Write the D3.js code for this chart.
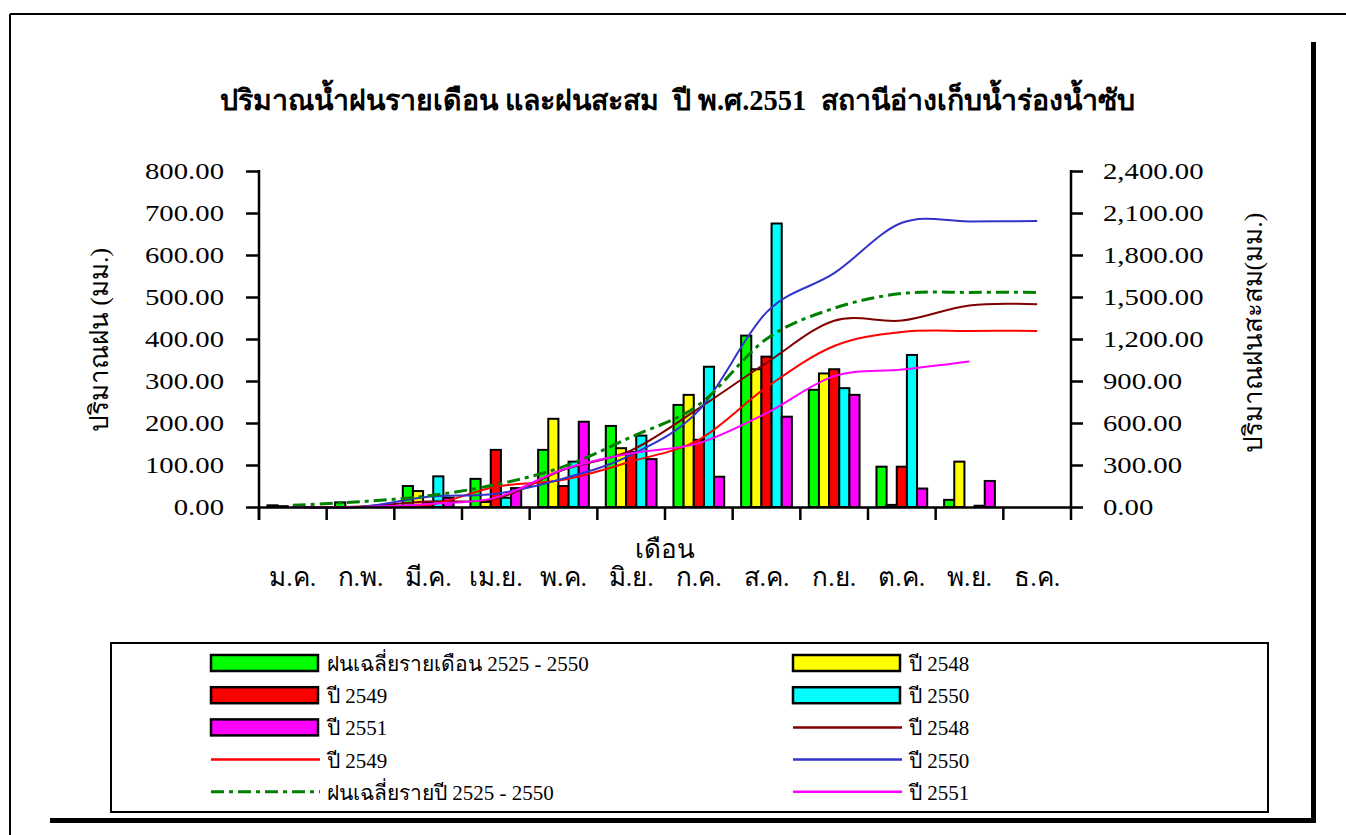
<!DOCTYPE html>
<html><head><meta charset="utf-8">
<script src="https://cdn.jsdelivr.net/npm/d3@7"></script>
<style>
body{margin:0;background:#fff;}
svg text{font-family:"Liberation Serif","Times New Roman",serif;white-space:pre;}
</style></head>
<body><svg id="c" width="1346" height="835"></svg>
<script>
const months = ["ม.ค.","ก.พ.","มี.ค.","เม.ย.","พ.ค.","มิ.ย.","ก.ค.","ส.ค.","ก.ย.","ต.ค.","พ.ย.","ธ.ค."];
const leftTicks = [0,100,200,300,400,500,600,700,800];
const rightTicks = [0,300,600,900,1200,1500,1800,2100,2400];
// monthly rainfall (bars)
const barAvg   = [4, 11, 50, 67, 136, 193, 243, 408, 279, 96, 17, 0];
const bar2548  = [2, 0, 38, 12, 210, 140, 267, 328, 318, 5, 108, 0];
const bar2549  = [0, 0, 12, 136, 50, 131, 160, 358, 328, 96, 0, 0];
const bar2550  = [0, 0, 73, 22, 108, 170, 334, 675, 283, 362, 3, 0];
const bar2551  = [0, 0, 22, 45, 203, 114, 72, 215, 267, 44, 62, 0];
// cumulative rainfall (lines)
const cum2548  = [2, 4, 40, 58, 265, 405, 705, 1030, 1330, 1332, 1440, 1448];
const cum2549  = [0, 0, 12, 145, 195, 325, 480, 855, 1150, 1250, 1258, 1258];
const cum2550  = [0, 0, 73, 95, 203, 373, 690, 1390, 1670, 2030, 2040, 2042];
const cum2551  = [0, 0, 22, 67, 270, 384, 456, 671, 935, 982, 1040];
const cumAvg   = [12, 38, 80, 160, 288, 500, 730, 1200, 1420, 1525, 1533, 1533];

const barSeries = [
  {name:"ฝนเฉลี่ยรายเดือน 2525 - 2550", values:barAvg, color:"#00ff00"},
  {name:"ปี 2548", values:bar2548, color:"#ffff00"},
  {name:"ปี 2549", values:bar2549, color:"#ff0000"},
  {name:"ปี 2550", values:bar2550, color:"#00ffff"},
  {name:"ปี 2551", values:bar2551, color:"#ff00ff"}
];
const lineSeries = [
  {name:"ปี 2548", values:cum2548, color:"#800000", dash:null, w:2},
  {name:"ปี 2549", values:cum2549, color:"#ff0000", dash:null, w:2},
  {name:"ปี 2550", values:cum2550, color:"#3333cc", dash:null, w:2},
  {name:"ฝนเฉลี่ยรายปี 2525 - 2550", values:cumAvg, color:"#008000", dash:"13,5,4,5", w:3},
  {name:"ปี 2551", values:cum2551, color:"#ff00ff", dash:null, w:2}
];

const svg = d3.select("#c");
// outer frame
svg.append("line").attr("x1",10).attr("y1",14).attr("x2",1346).attr("y2",14).attr("stroke","#000").attr("stroke-width",2);
svg.append("line").attr("x1",10).attr("y1",14).attr("x2",10).attr("y2",835).attr("stroke","#000").attr("stroke-width",2);
svg.append("line").attr("x1",1313.5).attr("y1",42).attr("x2",1313.5).attr("y2",823).attr("stroke","#000").attr("stroke-width",5);
svg.append("line").attr("x1",50).attr("y1",820.5).attr("x2",1316).attr("y2",820.5).attr("stroke","#000").attr("stroke-width",5);

svg.append("text").attr("x",677).attr("y",110).attr("text-anchor","middle")
  .attr("font-size",28.5).attr("font-weight","bold")
  .text("ปริมาณน้ำฝนรายเดือน และฝนสะสม  ปี พ.ศ.2551  สถานีอ่างเก็บน้ำร่องน้ำซับ");

const L=259, R=1071, B=507, T=171;
const x = d3.scaleBand().domain(months).range([L,R]);
const bw = x.bandwidth();
const x1 = d3.scaleBand().domain(barSeries.map((d,i)=>i)).range([bw*0.125, bw*0.875]);
const y = d3.scaleLinear().domain([0,800]).range([B,T]);
const y2 = d3.scaleLinear().domain([0,2400]).range([B,T]);

// bars
barSeries.forEach((s,si)=>{
  svg.append("g").selectAll("rect").data(s.values).join("rect")
    .attr("x",(d,i)=>x(months[i])+x1(si))
    .attr("width",x1.bandwidth())
    .attr("y",d=>y(d))
    .attr("height",d=>B-y(d))
    .attr("fill",s.color).attr("stroke","#000").attr("stroke-width",2);
});

// lines
lineSeries.forEach(s=>{
  const ln = d3.line().x((d,i)=>x(months[i])+bw/2).y(d=>y2(d)).curve(d3.curveCatmullRom.alpha(0));
  svg.append("path").datum(s.values).attr("d",ln).attr("fill","none")
    .attr("stroke",s.color).attr("stroke-width",s.w).attr("stroke-dasharray",s.dash);
});

// axes
const fmt = d3.format(",.2f");
const gl = svg.append("g").attr("transform",`translate(${L},0)`)
  .call(d3.axisLeft(y).tickValues(leftTicks).tickFormat(d3.format(".2f")).tickSize(13).tickPadding(22));
const gr = svg.append("g").attr("transform",`translate(${R},0)`)
  .call(d3.axisRight(y2).tickValues(rightTicks).tickFormat(fmt).tickSize(12).tickPadding(20));
const sx = 1.25;
[gl,gr].forEach(g=>{
  g.select(".domain").remove();
  g.selectAll(".tick line").attr("stroke","#000").attr("stroke-width",2.5);
  g.selectAll(".tick text").attr("font-size",23).attr("fill","#000").attr("font-family","Liberation Serif")
    .each(function(){
      const t = d3.select(this);
      const ox = +t.attr("x");
      t.attr("x", ox/sx).attr("transform",`scale(${sx},1)`);
    });
});
svg.append("line").attr("x1",L).attr("x2",L).attr("y1",T-1).attr("y2",B+13).attr("stroke","#000").attr("stroke-width",2.5);
svg.append("line").attr("x1",R).attr("x2",R).attr("y1",T-1).attr("y2",B+13).attr("stroke","#000").attr("stroke-width",2.5);
const gx = svg.append("g").attr("transform",`translate(0,${B})`)
  .call(d3.axisBottom(x).tickValues([]).tickSizeOuter(0));
gx.select(".domain").attr("stroke","#000").attr("stroke-width",2.5);
svg.append("g").selectAll("line").data(months).join("line")
  .attr("x1",d=>x(d)).attr("x2",d=>x(d)).attr("y1",B).attr("y2",B+13)
  .attr("stroke","#000").attr("stroke-width",2.5);
svg.append("g").selectAll("text").data(months).join("text")
  .attr("x",d=>x(d)+bw/2).attr("y",586).attr("text-anchor","middle")
  .attr("font-size",26).text(d=>d);
svg.append("text").attr("x",665).attr("y",558).attr("text-anchor","middle").attr("font-size",26).text("เดือน");
svg.append("text").attr("transform","translate(108,340) rotate(-90)").attr("text-anchor","middle").attr("font-size",26).text("ปริมาณฝน (มม.)");
svg.append("text").attr("transform","translate(1262,333) rotate(-90)").attr("text-anchor","middle").attr("font-size",26).text("ปริมาณฝนสะสม(มม.)");

// legend
svg.append("rect").attr("x",111).attr("y",643).attr("width",1157).attr("height",169)
  .attr("fill","#fff").attr("stroke","#000").attr("stroke-width",2);
const items = [
  {t:"bar", s:barSeries[0]}, {t:"bar", s:barSeries[1]},
  {t:"bar", s:barSeries[2]}, {t:"bar", s:barSeries[3]},
  {t:"bar", s:barSeries[4]}, {t:"line", s:lineSeries[0]},
  {t:"line", s:lineSeries[1]}, {t:"line", s:lineSeries[2]},
  {t:"line", s:lineSeries[3]}, {t:"line", s:lineSeries[4]}
];
items.forEach((it,i)=>{
  const col = i%2, row = Math.floor(i/2);
  const lx = col? 793:211, cy = 663 + row*32.2;
  const g = svg.append("g");
  if(it.t==="bar"){
    g.append("rect").attr("x",lx).attr("y",cy-8).attr("width",107).attr("height",16)
      .attr("fill",it.s.color).attr("stroke","#000").attr("stroke-width",2.5);
  } else {
    g.append("line").attr("x1",lx).attr("x2",lx+109).attr("y1",cy).attr("y2",cy)
      .attr("stroke",it.s.color).attr("stroke-width",it.s.w===3?3:2.5).attr("stroke-dasharray",it.s.dash);
  }
  g.append("text").attr("x",lx+116).attr("y",cy+8).attr("font-size",21).text(it.s.name);
});
</script></body></html>
